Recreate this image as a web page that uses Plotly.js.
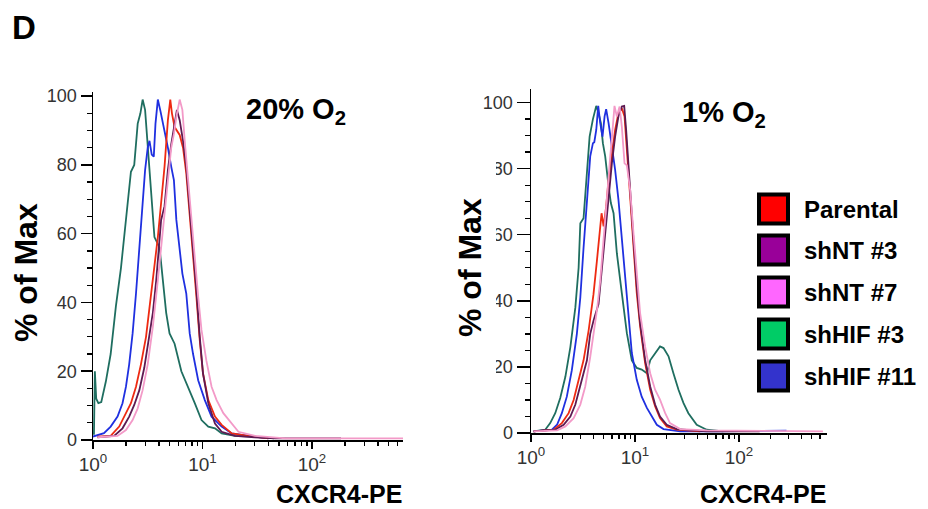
<!DOCTYPE html>
<html>
<head>
<meta charset="utf-8">
<script src="https://cdn.plot.ly/plotly-3.0.1.min.js"></script>
<style>html,body{margin:0;padding:0;background:#fff;}#chart{width:928px;height:509px;}</style>
</head>
<body>
<div id="chart"></div>
<script>
// ---------- DATA ----------
const seriesNames = ["Parental", "shNT #3", "shNT #7", "shHIF #3", "shHIF #11"];
const lineColors = ["#ee2a12", "#5e1a52", "#f39ac8", "#1f6e60", "#1f30e0"];
const legendColors = ["#ff0000", "#990099", "#ff66ff", "#00cc66", "#3333cc"];
const panelTitles = ["20% O<sub>2</sub>", "1% O<sub>2</sub>"];
const xTickVals = [1, 10, 100];
const xTickText = ["10<sup>0</sup>", "10<sup>1</sup>", "10<sup>2</sup>"];

// 20% O2
const x20_parental = [1.10,1.45,1.735,2.00,2.22,2.47,2.74,3.05,3.40,3.64,3.91,4.19,4.50,4.83,5.08,5.26,5.56,6.19,6.64,7.11,7.64,8.20,8.80,9.44,10.1,11.3,13.0,14.96,18.5,26.2,40];
const y20_parental = [1,1.2,3.9,7.8,10.7,15.5,22,30,42.6,51,59,69,79.5,93,99,95,91,88.7,85,77.5,66,54,41.7,29,19.4,11.6,6.8,4.4,1.9,1.2,0.5];
const x20_shNT3 = [1.10,1.56,1.86,2.14,2.38,2.65,2.94,3.28,3.52,3.78,4.05,4.19,4.50,4.83,5.18,5.56,5.84,6.19,6.64,7.11,7.64,8.20,8.80,9.44,10.1,11.3,13.0,14.96,19.8,30,46.3,184];
const y20_shNT3 = [0.8,1.2,3.4,6.8,10.2,14.5,21,31,37,46.5,58,64,68,78.5,86,92.5,96,93,87,79.5,68,56,43.6,30,19.4,10.7,4.8,2.4,1.2,0.8,0.5,0.5];
const x20_shNT7 = [1.10,1.675,2.00,2.30,2.56,2.84,3.16,3.52,3.91,4.19,4.50,4.83,5.18,5.48,5.77,6.19,6.55,6.88,7.38,7.92,8.50,9.13,9.79,10.86,12.1,13.45,15.5,18.5,21.3,30.2,57.3,680];
const y20_shNT7 = [0.8,1.2,2.9,5.8,9.2,14.5,22,33,46.5,56,67,77.5,85,89,94,99,96,87,75.6,64,52,41.7,32,23,15.5,11.6,7.8,4.8,2.4,1.2,0.5,0.5];
const x20_shHIF3 = [1.02,1.04,1.07,1.12,1.19,1.31,1.45,1.62,1.80,2.00,2.22,2.38,2.56,2.71,2.84,2.99,3.16,3.40,3.64,4.05,4.35,4.66,5.00,5.56,6.41,7.38,8.50,9.79,11.3,13.0,14.96,19.8,30.2,45];
const y20_shHIF3 = [1.5,20,12,10.7,11,17,25,39,50,64,78,80,92,95,99,96,85,72,59,56,46.5,37,31,28,20,15.5,10.7,5.8,3.9,3.4,1.9,1.2,1,0.5];
const x20_shHIF11 = [1.0,1.06,1.26,1.45,1.675,1.86,2.00,2.14,2.30,2.47,2.65,2.84,2.99,3.16,3.28,3.44,3.59,3.72,3.91,4.14,4.50,4.83,5.18,5.48,5.77,6.19,6.55,7.11,7.64,8.20,9.13,10.5,12.1,14.96,18.5,26.2,40];
const y20_shHIF11 = [1,1.2,2,3.9,6.8,10.7,15.5,22,31,42.6,56,70,78.5,85,87,83,82.4,92,99,95.5,90,85,79.5,75.6,64,56,48.4,42.6,31,25,17.4,11.6,6.8,3.9,1.9,1.2,0.5];

// 1% O2
const x1_parental = [1.06,1.65,1.98,2.30,2.57,2.87,3.20,3.58,3.99,4.30,4.56,4.77,4.99,5.28,5.57,5.99,6.44,6.93,7.47,7.93,8.35,8.98,9.67,10.4,11.2,12.5,14.0,15.6,17.4,20.2,25.2,42.4];
const y1_parental = [0.5,1,3,6,10,16,22,31,42,52,61.5,66.5,62.5,68.5,76.6,83.7,91.7,96.8,98.3,95.8,86.7,71.6,56.5,42.3,32.3,21.2,13.1,8.1,4.5,2,1,0.5];
const x1_shNT3 = [1.06,1.71,2.06,2.39,2.67,2.98,3.45,3.71,3.99,4.46,4.80,5.17,5.57,5.99,6.44,6.93,7.47,7.87,8.22,8.49,8.98,9.67,10.4,11.2,12.5,14.0,15.6,17.4,20.2,25.2,48.9,158];
const y1_shNT3 = [0.5,1,2.5,5,8.6,14,22,30,34,39,50,61.5,72.6,81.6,89.7,95.8,98.8,99,91.7,84.7,73.6,58.5,44.4,33.3,22.2,14.1,8.6,5,2.5,1.2,0.5,0.5];
const x1_shNT7 = [1.06,1.78,2.14,2.57,2.98,3.32,3.71,3.99,4.30,4.63,4.99,5.37,5.78,6.12,6.35,6.69,7.11,7.47,7.93,8.35,8.98,9.67,10.4,11.2,12.5,14.0,15.6,17.4,19.5,21.7,27.2,48.9,641];
const y1_shNT7 = [0.5,0.8,2,4.5,8.6,14,23,30,37,46,59.5,71.5,83.7,92.7,99,95.8,98.8,92.7,81.6,81,73.6,60.5,48.4,36.3,26.2,18.1,13.1,10.1,6,3,1.2,0.8,0.5];
const x1_shHIF3 = [1.06,1.37,1.53,1.71,1.91,2.14,2.39,2.67,2.87,2.98,3.20,3.45,3.66,3.94,4.24,4.46,4.70,4.91,5.17,5.57,5.86,6.22,6.69,7.47,8.35,9.32,10.4,11.6,13.0,14.0,15.6,17.4,18.8,21.0,23.4,26.2,29.2,32.6,39.2,48.9,70.7];
const y1_shHIF3 = [0.5,1,3,6,10.6,17,26,38,50,63.5,65,78.6,89.7,95,99,96.8,93.8,87.7,83.7,74.6,69.6,66.5,54.4,42.3,30.2,22,19.7,19.2,18.1,22,24.2,26.2,25.7,23.2,18.1,13.1,9.1,6,2.5,1,0.5];
const x1_shHIF11 = [1.06,1.59,1.78,1.98,2.21,2.47,2.76,2.98,3.20,3.45,3.71,3.94,4.06,4.24,4.43,4.63,4.87,5.10,5.28,5.57,5.99,6.44,6.93,7.47,8.04,8.66,9.32,10.4,11.6,13.0,14.5,16.2,18.8,27.2,60,158,286];
const y1_shHIF11 = [0.5,1,2.5,6,11,19,30,41,56,71.5,83.7,87.7,88,91.7,99,93.8,89.7,95.8,98,93.8,86.7,79.6,70.6,58.5,46.4,34.3,24.2,16.1,11,7.6,5,2.5,1.2,0.5,0.5,0.7,0.7];

// ---------- BUILD ----------
const W = 928, H = 509;
const FONT = 'Arial, "Liberation Sans", sans-serif';
const px = v => v / W;
const py = v => 1 - v / H;

const panel20 = [[x20_parental,y20_parental],[x20_shNT3,y20_shNT3],[x20_shNT7,y20_shNT7],[x20_shHIF3,y20_shHIF3],[x20_shHIF11,y20_shHIF11]];
const panel1 = [[x1_parental,y1_parental],[x1_shNT3,y1_shNT3],[x1_shNT7,y1_shNT7],[x1_shHIF3,y1_shHIF3],[x1_shHIF11,y1_shHIF11]];
const drawOrder = [3, 4, 0, 1, 2];

const traces = [];
[[panel20, 'x', 'y'], [panel1, 'x2', 'y2']].forEach(([panel, xa, ya]) => {
  drawOrder.forEach(i => {
    traces.push({
      type: 'scatter', mode: 'lines', name: seriesNames[i],
      x: panel[i][0], y: panel[i][1], xaxis: xa, yaxis: ya,
      line: {color: lineColors[i], width: 1.8},
      hoverinfo: 'skip', showlegend: false
    });
  });
});

function xAxis(domain, range, anchor) {
  return {
    type: 'log', domain: domain, range: range, anchor: anchor,
    showline: true, linecolor: '#000', linewidth: 1.5, mirror: false,
    ticks: 'outside', ticklen: 7, tickwidth: 1.5, tickcolor: '#000',
    tickmode: 'array', tickvals: xTickVals, ticktext: xTickText,
    tickfont: {family: FONT, size: 19, color: '#333'},
    minor: {tickmode: 'array',
            tickvals: [2,3,4,5,6,7,8,9,20,30,40,50,60,70,80,90,200,300,400,500,600],
            ticks: 'outside', ticklen: 4, tickwidth: 1.3, tickcolor: '#000', showgrid: false},
    showgrid: false, zeroline: false, fixedrange: true
  };
}
function yAxis(domain, range, anchor, tlen) {
  return {
    domain: domain, range: range, anchor: anchor,
    showline: true, linecolor: '#000', linewidth: 1.5,
    ticks: 'outside', ticklen: tlen, tickwidth: 1.5, tickcolor: '#000',
    tick0: 0, dtick: 20,
    tickfont: {family: FONT, size: 18, color: '#333'},
    minor: {dtick: 5, ticks: 'outside', ticklen: 5, tickwidth: 1.3, tickcolor: '#000', showgrid: false},
    showgrid: false, zeroline: false, fixedrange: true
  };
}

const shapes = [];
const annotations = [];

// clipped tick labels on the right panel (as in the reference crop)
shapes.push({type: 'rect', xref: 'paper', yref: 'paper', layer: 'above',
  x0: px(486), x1: px(496), y0: py(420), y1: py(135),
  fillcolor: '#fff', line: {width: 0}});

// legend
const legendRowY = [209, 250, 292, 334, 376];
seriesNames.forEach((n, i) => {
  const cy = legendRowY[i];
  shapes.push({type: 'rect', xref: 'paper', yref: 'paper', layer: 'above',
    x0: px(759), x1: px(788), y0: py(cy + 14.5), y1: py(cy - 14.5),
    fillcolor: legendColors[i], line: {color: '#000', width: 4}});
  annotations.push({xref: 'paper', yref: 'paper', x: px(802), y: py(cy),
    xanchor: 'left', yanchor: 'middle', showarrow: false,
    text: '<b>' + n + '</b>', font: {family: FONT, size: 24, color: '#000'}});
});

// panel letter
annotations.push({xref: 'paper', yref: 'paper', x: px(10), y: py(28), xanchor: 'left', yanchor: 'middle',
  showarrow: false, text: '<b>D</b>', font: {family: FONT, size: 33, color: '#000'}});
// panel titles
annotations.push({xref: 'paper', yref: 'paper', x: px(296), y: py(111), xanchor: 'center', yanchor: 'middle',
  showarrow: false, text: '<b>' + panelTitles[0] + '</b>', font: {family: FONT, size: 29, color: '#000'}});
annotations.push({xref: 'paper', yref: 'paper', x: px(724), y: py(114), xanchor: 'center', yanchor: 'middle',
  showarrow: false, text: '<b>' + panelTitles[1] + '</b>', font: {family: FONT, size: 29, color: '#000'}});
// y titles
[[26, 273], [470, 268]].forEach(([x, y]) => {
  annotations.push({xref: 'paper', yref: 'paper', x: px(x), y: py(y), xanchor: 'center', yanchor: 'middle',
    textangle: -90, showarrow: false, text: '<b>% of Max</b>', font: {family: FONT, size: 32, color: '#000'}});
});
// x titles
[[404, 494], [828, 494]].forEach(([x, y]) => {
  annotations.push({xref: 'paper', yref: 'paper', x: px(x), y: py(y), xanchor: 'right', yanchor: 'middle',
    showarrow: false, text: '<b>CXCR4-PE</b>', font: {family: FONT, size: 25, color: '#000'}});
});

const layout = {
  width: W, height: H,
  margin: {l: 0, r: 0, t: 0, b: 0, pad: 0},
  paper_bgcolor: '#fff', plot_bgcolor: '#fff',
  showlegend: false,
  font: {family: FONT, color: '#000'},
  xaxis: xAxis([px(93), px(403)], [0, 2.831], 'y'),
  yaxis: yAxis([1 - 440 / H, 1 - 92 / H], [0, 101.2], 'x', 11),
  xaxis2: xAxis([px(531), px(827)], [0, 2.846], 'y2'),
  yaxis2: yAxis([1 - 433 / H, 1 - 89 / H], [0, 104.1], 'x2', 13),
  shapes: shapes,
  annotations: annotations
};

Plotly.newPlot('chart', traces, layout, {displayModeBar: false, staticPlot: true});
</script>
</body>
</html>
